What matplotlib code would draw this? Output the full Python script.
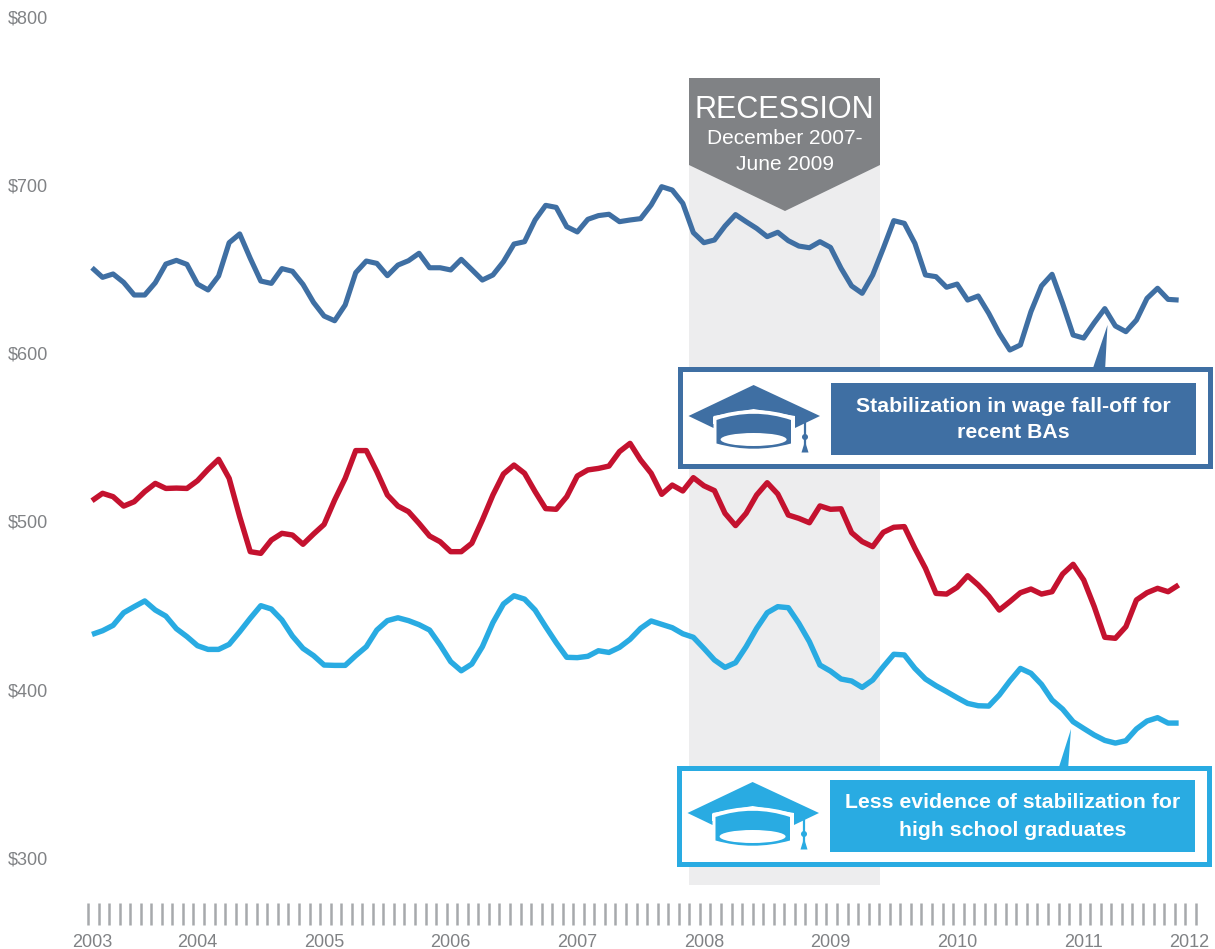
import matplotlib
matplotlib.use("Agg")
import matplotlib.pyplot as plt
from matplotlib.patches import Polygon, Rectangle, Ellipse, Circle, PathPatch
from matplotlib.path import Path
from matplotlib.transforms import ScaledTranslation

plt.rcParams['font.family'] = ['Liberation Sans', 'DejaVu Sans']

ba_wages = [650.8,645.1,647.1,642.1,634.6,634.6,641.9,653.0,655.2,652.8,641.1,637.6,645.9,665.7,670.9,656.4,642.9,641.5,650.3,648.7,
            640.9,630.2,622.1,619.3,628.7,647.9,654.8,653.4,646.1,652.4,655.0,659.4,650.8,650.8,649.5,655.8,649.7,643.5,646.5,654.4,
            664.9,666.3,679.2,687.9,686.7,675.2,672.1,679.6,681.8,682.6,678.2,679.2,680.0,688.1,699.0,697.0,689.1,671.7,665.7,667.3,
            675.6,682.4,678.2,674.2,669.3,671.9,666.9,663.7,662.7,666.3,662.9,650.5,640.0,635.6,646.5,662.3,678.8,677.2,665.3,646.5,
            645.5,639.2,641.1,631.6,634.0,623.7,611.8,601.9,604.9,624.7,640.0,646.9,629.6,610.8,609.0,618.1,626.5,616.2,612.8,619.7,
            632.6,638.6,632.0,631.6]
some_college_wages = [512.3,516.7,514.7,509.1,511.7,517.7,522.6,519.6,519.8,519.6,524.2,530.9,536.9,525.6,502.8,482.0,481.0,488.9,492.9,491.9,
            486.4,492.5,498.2,512.7,525.6,542.1,542.1,529.6,515.7,509.1,505.8,498.8,491.3,487.9,482.0,482.0,487.0,500.8,515.7,528.2,
            533.5,528.6,517.7,507.6,507.2,514.7,527.0,530.6,531.5,532.9,541.5,546.4,536.5,528.6,516.1,521.6,518.1,526.0,521.2,518.3,
            504.8,497.5,504.8,515.7,523.0,516.3,503.8,501.8,499.2,509.2,507.2,507.5,493.3,488.0,485.0,493.5,496.5,496.9,484.0,472.1,
            457.2,456.8,460.8,467.7,462.2,455.6,447.3,452.3,457.6,459.8,456.8,458.2,468.7,474.5,465.2,449.3,431.1,430.5,437.4,453.3,
            457.6,460.2,458.2,462.2]
hs_wages = [432.8,435.0,438.2,445.7,449.3,452.7,447.3,443.7,436.2,431.5,426.1,423.9,423.9,426.9,434.4,442.4,449.9,447.9,441.4,431.8,
            424.5,420.2,414.6,414.4,414.4,420.2,425.5,435.4,441.0,442.7,441.0,438.6,435.4,426.5,416.6,411.2,415.2,425.5,439.8,450.9,
            455.8,453.8,447.3,437.4,427.9,419.2,419.0,419.8,423.1,422.1,425.1,429.9,436.4,440.8,438.8,436.8,433.2,431.1,424.5,417.6,
            413.2,416.0,425.5,436.4,445.7,449.3,448.7,439.4,428.5,414.6,411.0,406.3,405.1,401.3,405.7,413.6,421.0,420.6,412.6,406.3,
            402.3,398.8,395.2,391.8,390.4,390.2,396.8,405.1,412.6,409.7,403.1,393.8,388.4,380.9,376.9,373.0,369.8,368.2,369.6,376.6,
            381.3,383.3,380.1,380.1]
months = list(range(len(ba_wages)))
year_labels = ['2003','2004','2005','2006','2007','2008','2009','2010','2011','2012']
year_label_months = [0,10,22,34,46,58,70,82,94,104]
y_values = [300,400,500,600,700,800]
month_ticks = [m - 0.38 for m in range(106)]
recession_start, recession_end = 56.6, 74.7
band_low, band_high = 283.8, 763.6

W, H = 1215, 949
BLUE, RED, CYAN = '#3f6fa3', '#c4122f', '#29abe2'
GREY = '#808285'

fig = plt.figure(figsize=(W/100, H/100), dpi=100, facecolor='white')

# pixel placement of the plot area
L, R, T, B = 87.0, 1198.0, 0.0, 903.0
ax = fig.add_axes([L/W, 1-B/H, (R-L)/W, (B-T)/H])
ax.set_xlim((L-92)/10.55, (R-92)/10.55)
ax.set_ylim(700-(B-185)/1.682, 700+185/1.682)
for s in ax.spines.values():
    s.set_visible(False)
ax.patch.set_alpha(0)

ax.fill_between([recession_start, recession_end], band_low, band_high, color='#ededee', lw=0, zorder=1)
ax.plot(months, ba_wages, color=BLUE, lw=3.7, solid_joinstyle='round', solid_capstyle='butt', zorder=3)
ax.plot(months, some_college_wages, color=RED, lw=3.9, solid_joinstyle='round', solid_capstyle='butt', zorder=3)
ax.plot(months, hs_wages, color=CYAN, lw=3.9, solid_joinstyle='round', solid_capstyle='butt', zorder=3)

ax.set_yticks(y_values)
ax.set_yticklabels([f'${v}' for v in y_values], fontsize=13, color=GREY, va='center_baseline')
ax.tick_params(axis='y', length=0, pad=28)
ax.set_xticks(year_label_months)
ax.set_xticklabels(year_labels, fontsize=13, color=GREY)
ax.tick_params(axis='x', which='major', length=0, pad=22)
ax.set_xticks(month_ticks, minor=True)
ax.tick_params(axis='x', which='minor', length=15.5, width=1.8, color='#a7a9ac', direction='out')

# overlay in pixel units for the annotation furniture
ov = fig.add_axes([0, 0, 1, 1], zorder=5)
ov.set_xlim(0, W)
ov.set_ylim(H, 0)
ov.axis('off')
ov.patch.set_alpha(0)

# recession banner
ov.add_patch(Polygon([(689,78),(880,78),(880,165),(785,211),(689,165)], closed=True, fc=GREY, ec='none'))
ov.text(784.5, 109.5, 'RECESSION', color='white', fontsize=22, ha='center', va='center')
ov.text(784.5, 138, 'December 2007-', color='white', fontsize=15, ha='center', va='center')
ov.text(784.5, 164.5, 'June 2009', color='white', fontsize=15, ha='center', va='center')

def cap(dx, dy, col):
    def P(pts):
        return [(x+dx, y+dy) for x, y in pts]
    ov.add_patch(Polygon(P([(688.5,416),(753.6,385),(820,416),(795,428),(795,416),(753.6,409),(713.5,416),(713.5,428)]),
                         closed=True, fc=col, ec='none'))
    rim = Path(P([(713,417),(753.6,403),(795,417),(795,424),(791,424),(791,444),(753.6,455),(716,444),(716,424),(713,424),(713,417)]),
               [Path.MOVETO,Path.CURVE3,Path.CURVE3,Path.LINETO,Path.LINETO,Path.LINETO,Path.CURVE3,Path.CURVE3,Path.LINETO,Path.LINETO,Path.CLOSEPOLY])
    ov.add_patch(PathPatch(rim, fc='white', ec='none'))
    body = Path(P([(716.5,420),(753.6,407.5),(791,420),(791,443.5),(753.6,454),(716.5,443.5),(716.5,420)]),
                [Path.MOVETO,Path.CURVE3,Path.CURVE3,Path.LINETO,Path.CURVE3,Path.CURVE3,Path.CLOSEPOLY])
    ov.add_patch(PathPatch(body, fc=col, ec='none'))
    ov.add_patch(Ellipse((753.6+dx, 439.5+dy), 66, 13, fc='white', ec='none'))
    ov.plot([805+dx, 805+dx], [422+dy, 445+dy], color=col, lw=1.6, solid_capstyle='butt')
    ov.add_patch(Circle((805+dx, 437+dy), 3, fc=col, ec='none'))
    ov.add_patch(Polygon(P([(805,441),(808.5,452.5),(801.5,452.5)]), closed=True, fc=col, ec='none'))

def callout(x0, x1, y0, y1, ix0, ix1, iy0, iy1, col, lines, ptr, dx, dy):
    ov.add_patch(Polygon(ptr, closed=True, fc=col, ec='none'))
    ov.add_patch(Rectangle((x0, y0), x1-x0, y1-y0, fc='white', ec=col, lw=3.6))
    ov.add_patch(Rectangle((ix0, iy0), ix1-ix0, iy1-iy0, fc=col, ec='none'))
    cx = (ix0+ix1)/2
    ov.text(cx, iy0+23, lines[0], color='white', fontsize=15.35, fontweight='bold', ha='center', va='center')
    ov.text(cx, iy0+50, lines[1], color='white', fontsize=15.35, fontweight='bold', ha='center', va='center')
    cap(dx, dy, col)

callout(680, 1209.5, 369, 466, 831, 1196, 383, 455, BLUE,
        ['Stabilization in wage fall-off for', 'recent BAs'],
        [(1107.5,325),(1092,371),(1105,371)], 0, 0)
callout(679, 1208.5, 768, 864, 830, 1195, 780, 852, CYAN,
        ['Less evidence of stabilization for', 'high school graduates'],
        [(1071,729),(1058,770),(1068,770)], -1, 397)

fig.savefig('out.png', dpi=100, facecolor='white')
